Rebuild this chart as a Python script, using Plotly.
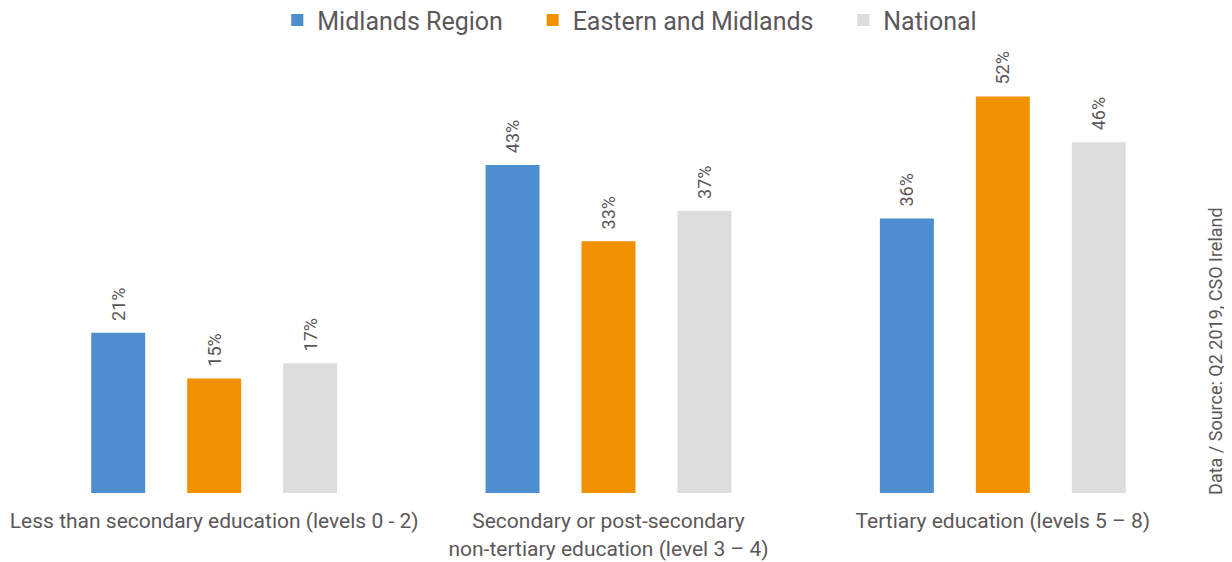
import plotly.graph_objects as go

categories = [
    "Less than secondary education (levels 0 - 2)",
    "Secondary or post-secondary<br>non-tertiary education (level 3 – 4)",
    "Tertiary education (levels 5 – 8)",
]
series_names = ["Midlands Region", "Eastern and Midlands", "National"]
midlands = [21, 43, 36]
eastern_midlands = [15, 33, 52]
national = [17, 37, 46]
colors = ["#4D8ECE", "#F29100", "#DDDDDD"]

text_color = "#5C575A"
font_family = "Roboto, 'Open Sans', sans-serif"

# legend spacing padding (non-breaking spaces) for the first two entries
legend_pad = ["\u00a0\u00a0\u00a0\u00a0", "\u00a0\u00a0\u00a0\u00a0", ""]

fig = go.Figure()
for name, vals, col, pad in zip(series_names, [midlands, eastern_midlands, national], colors, legend_pad):
    fig.add_trace(go.Bar(
        name=name + pad, x=categories, y=vals,
        marker=dict(color=col, line=dict(width=0)),
        text=[f"\u00a0\u00a0{v}%" for v in vals],
        textposition="outside", textangle=-90,
        textfont=dict(size=18, color=text_color, family=font_family),
        cliponaxis=False,
    ))

fig.update_layout(
    width=1224, height=554,
    margin=dict(l=9, r=32, t=0, b=69, autoexpand=False),
    paper_bgcolor="white", plot_bgcolor="white",
    barmode="group", bargap=0.27, bargroupgap=0.4375,
    font=dict(family=font_family, color=text_color),
    legend=dict(orientation="h", x=0.518, xanchor="center", y=0.975, yanchor="middle",
                font=dict(size=25, color=text_color), traceorder="normal",
                bgcolor="rgba(0,0,0,0)"),
    xaxis=dict(showgrid=False, showline=False, zeroline=False, automargin=False,
               ticks="outside", ticklen=9, tickcolor="rgba(0,0,0,0)",
               tickfont=dict(size=21, color=text_color, family=font_family)),
    yaxis=dict(range=[0, 63.6], visible=False, showgrid=False, zeroline=False, automargin=False),
    showlegend=True,
)

fig.add_annotation(
    text="Data / Source: Q2 2019, CSO Ireland",
    xref="paper", yref="paper", x=1.0, y=0.293, xshift=16,
    xanchor="center", yanchor="middle",
    showarrow=False, textangle=-90,
    font=dict(size=18, color=text_color, family=font_family),
)

fig.write_html("out.html")
